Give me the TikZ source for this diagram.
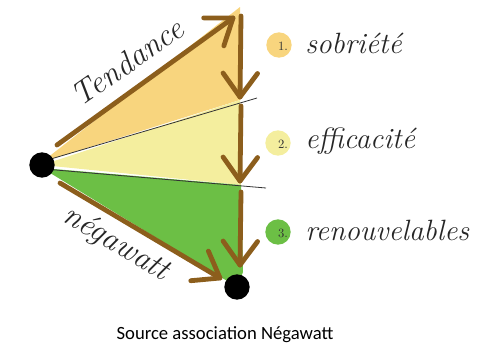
\documentclass[tikz,border=0pt]{standalone}
\usepackage{fontspec}
\newfontfamily\capfont{Carlito}
\usetikzlibrary{calc}
\definecolor{orangefill}{HTML}{F8D57E}
\definecolor{yellowfill}{HTML}{F4EE9E}
\definecolor{greenfill}{HTML}{6CBF45}
\definecolor{brownline}{HTML}{8C5E1C}
\tikzset{
  brownarrow/.style={draw=brownline, line width=3.6pt, line cap=round, line join=round},
  dot/.style={circle, fill=black, inner sep=0pt, minimum size=19pt},
  hand/.style={font=\fontsize{22}{26}\selectfont\itshape, text=black!85, inner sep=0pt},
  bighand/.style={font=\fontsize{24}{28}\selectfont\itshape, text=black!85, inner sep=0pt},
  numdisc/.style={circle, inner sep=0pt, minimum size=19pt},
  numtxt/.style={font=\fontsize{9.5}{10}\selectfont, text=black!80, inner sep=0pt},
  divider/.style={draw=black!80, line width=0.6pt}
}
\newcommand\myhead[2]{% tip, start
  \draw[brownarrow] ($(#1)!22pt!36:(#2)$) -- (#1) -- ($(#1)!22pt!-36:(#2)$);}
\begin{document}
\begin{tikzpicture}[x=0.75pt, y=-0.75pt]
\useasboundingbox (0,0) rectangle (477,347);
% key points
\coordinate (apex) at (240,7);
\coordinate (m1) at (240,100);
\coordinate (m2) at (241,185);
\coordinate (g3) at (243,272);
\coordinate (e1) at (257,98);
\coordinate (e2) at (266,188);
% fills
\fill[orangefill] (42,162) -- (apex) -- (m1) -- cycle;
\fill[yellowfill] (42,165) -- (m1) -- (m2) -- cycle;
\fill[greenfill] (42,168) -- (m2) -- (g3) -- (237,287) -- cycle;
% dividers
\draw[divider] (44,161) -- (e1);
\draw[divider] (44,169) -- (e2);
% dots
\node[dot] (L) at (42,165) {};
\node[dot] (B) at (237,287) {};
% arrows
\coordinate (t0) at (57,145);
\coordinate (t1) at (233,18);
\draw[brownarrow] (t0) -- (t1);
\myhead{t1}{t0}
\coordinate (n0) at (60,183);
\coordinate (n1) at (220,278);
\draw[brownarrow] (n0) -- (n1);
\myhead{n1}{n0}
\coordinate (v0) at (241,16);
\coordinate (v1) at (240,97);
\draw[brownarrow] (v0) -- (v1);
\myhead{v1}{v0}
\coordinate (v2) at (241,106);
\coordinate (v3) at (240,181);
\draw[brownarrow] (v2) -- (v3);
\myhead{v3}{v2}
\coordinate (v4) at (241,192);
\coordinate (v5) at (240,265);
\draw[brownarrow] (v4) -- (v5);
\myhead{v5}{v4}
% arrow labels
\node[bighand, rotate=35] (tend) at (127,62) {Tendance};
\node[bighand, rotate=-31] (nega) at (116,244) {négawatt};
% legend
\node[numdisc, fill=orangefill] (c1) at (279,45) {};
\node[numtxt] (k1) at (283,46) {1.};
\node[hand, anchor=west] (s1) at (305,43) {sobriété};
\node[numdisc, fill=yellowfill] (c2) at (278,143) {};
\node[numtxt] (k2) at (283,144) {2.};
\node[hand, anchor=west] (s2) at (305,141) {efficacité};
\node[numdisc, fill=greenfill] (c3) at (278,232) {};
\node[numtxt] (k3) at (283,233) {3.};
\node[hand, anchor=west] (s3) at (305,230) {renouvelables};
% caption
\node[font=\capfont\fontsize{14}{16}\selectfont, inner sep=0pt] (cap) at (225,335) {Source association Négawatt};
\end{tikzpicture}
\end{document}
